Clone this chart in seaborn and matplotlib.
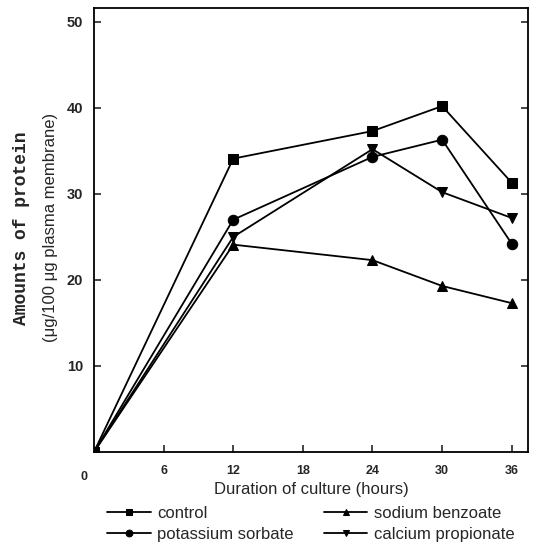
import pandas as pd
import matplotlib.pyplot as plt
import seaborn as sns

# values
hours = [0, 12, 24, 30, 36]
control = [0, 34.1, 37.3, 40.2, 31.3]
potassium_sorbate = [0, 27.0, 34.3, 36.3, 24.2]
sodium_benzoate = [0, 24.1, 22.3, 19.3, 17.3]
calcium_propionate = [0, 25.0, 35.2, 30.2, 27.2]

series_names = ['control', 'potassium sorbate', 'sodium benzoate', 'calcium propionate']
series_values = [control, potassium_sorbate, sodium_benzoate, calcium_propionate]
x_ticks = [6, 12, 18, 24, 30, 36]
y_ticks = [10, 20, 30, 40, 50]

rows = []
for name, vals in zip(series_names, series_values):
    for h, v in zip(hours, vals):
        rows.append({'hours': h, 'protein': v, 'treatment': name})
df = pd.DataFrame(rows)

sns.set_style('ticks')
plt.rcParams['font.family'] = ['Liberation Sans', 'DejaVu Sans']

fig = plt.figure(figsize=(5.38, 5.53), dpi=100)
ax = fig.add_axes([0.1747, 0.1826, 0.8067, 0.8029])

sns.lineplot(data=df, x='hours', y='protein', hue='treatment', style='treatment',
             hue_order=series_names, style_order=series_names,
             palette=['black'] * 4, markers=['s', 'o', '^', 'v'], dashes=False,
             markersize=7.5, linewidth=1.3, markeredgecolor='black', ax=ax)

ax.set_xlim(0, 37.4)
ax.set_ylim(0, 51.6)
ax.set_xticks(x_ticks)
ax.set_yticks(y_ticks)
ax.set_xticklabels([str(t) for t in x_ticks], fontsize=9, fontweight='bold')
ax.set_yticklabels([str(t) for t in y_ticks], fontsize=10.5, fontweight='bold')
ax.tick_params(axis='x', direction='in', length=5, width=1.2, pad=9)
ax.tick_params(axis='y', direction='in', length=5, width=1.2, pad=8,
               right=True)
for s in ax.spines.values():
    s.set_linewidth(1.3)
    s.set_color('black')

ax.annotate('0', xy=(0, 0), xytext=(-7, -22), textcoords='offset points',
            fontsize=9, fontweight='bold', ha='center', va='bottom')

ax.set_xlabel('Duration of culture (hours)', fontsize=12, labelpad=4)
ax.set_ylabel('')
fig.text(0.040, 0.587, 'Amounts of protein', rotation=90, ha='center', va='center',
         fontsize=13, fontweight='bold', family='Liberation Mono')
fig.text(0.093, 0.589, '(\u03bcg/100 \u03bcg plasma membrane)', rotation=90,
         ha='center', va='center', fontsize=12)

handles, labels = ax.get_legend_handles_labels()
ax.legend(handles, labels, ncol=2, frameon=False, loc='upper center',
          bbox_to_anchor=(0.5, -0.087), fontsize=12, markerscale=0.65,
          handlelength=2.6, handletextpad=0.4, columnspacing=1.8,
          labelspacing=0.4)

fig.savefig('out.png', dpi=100)
